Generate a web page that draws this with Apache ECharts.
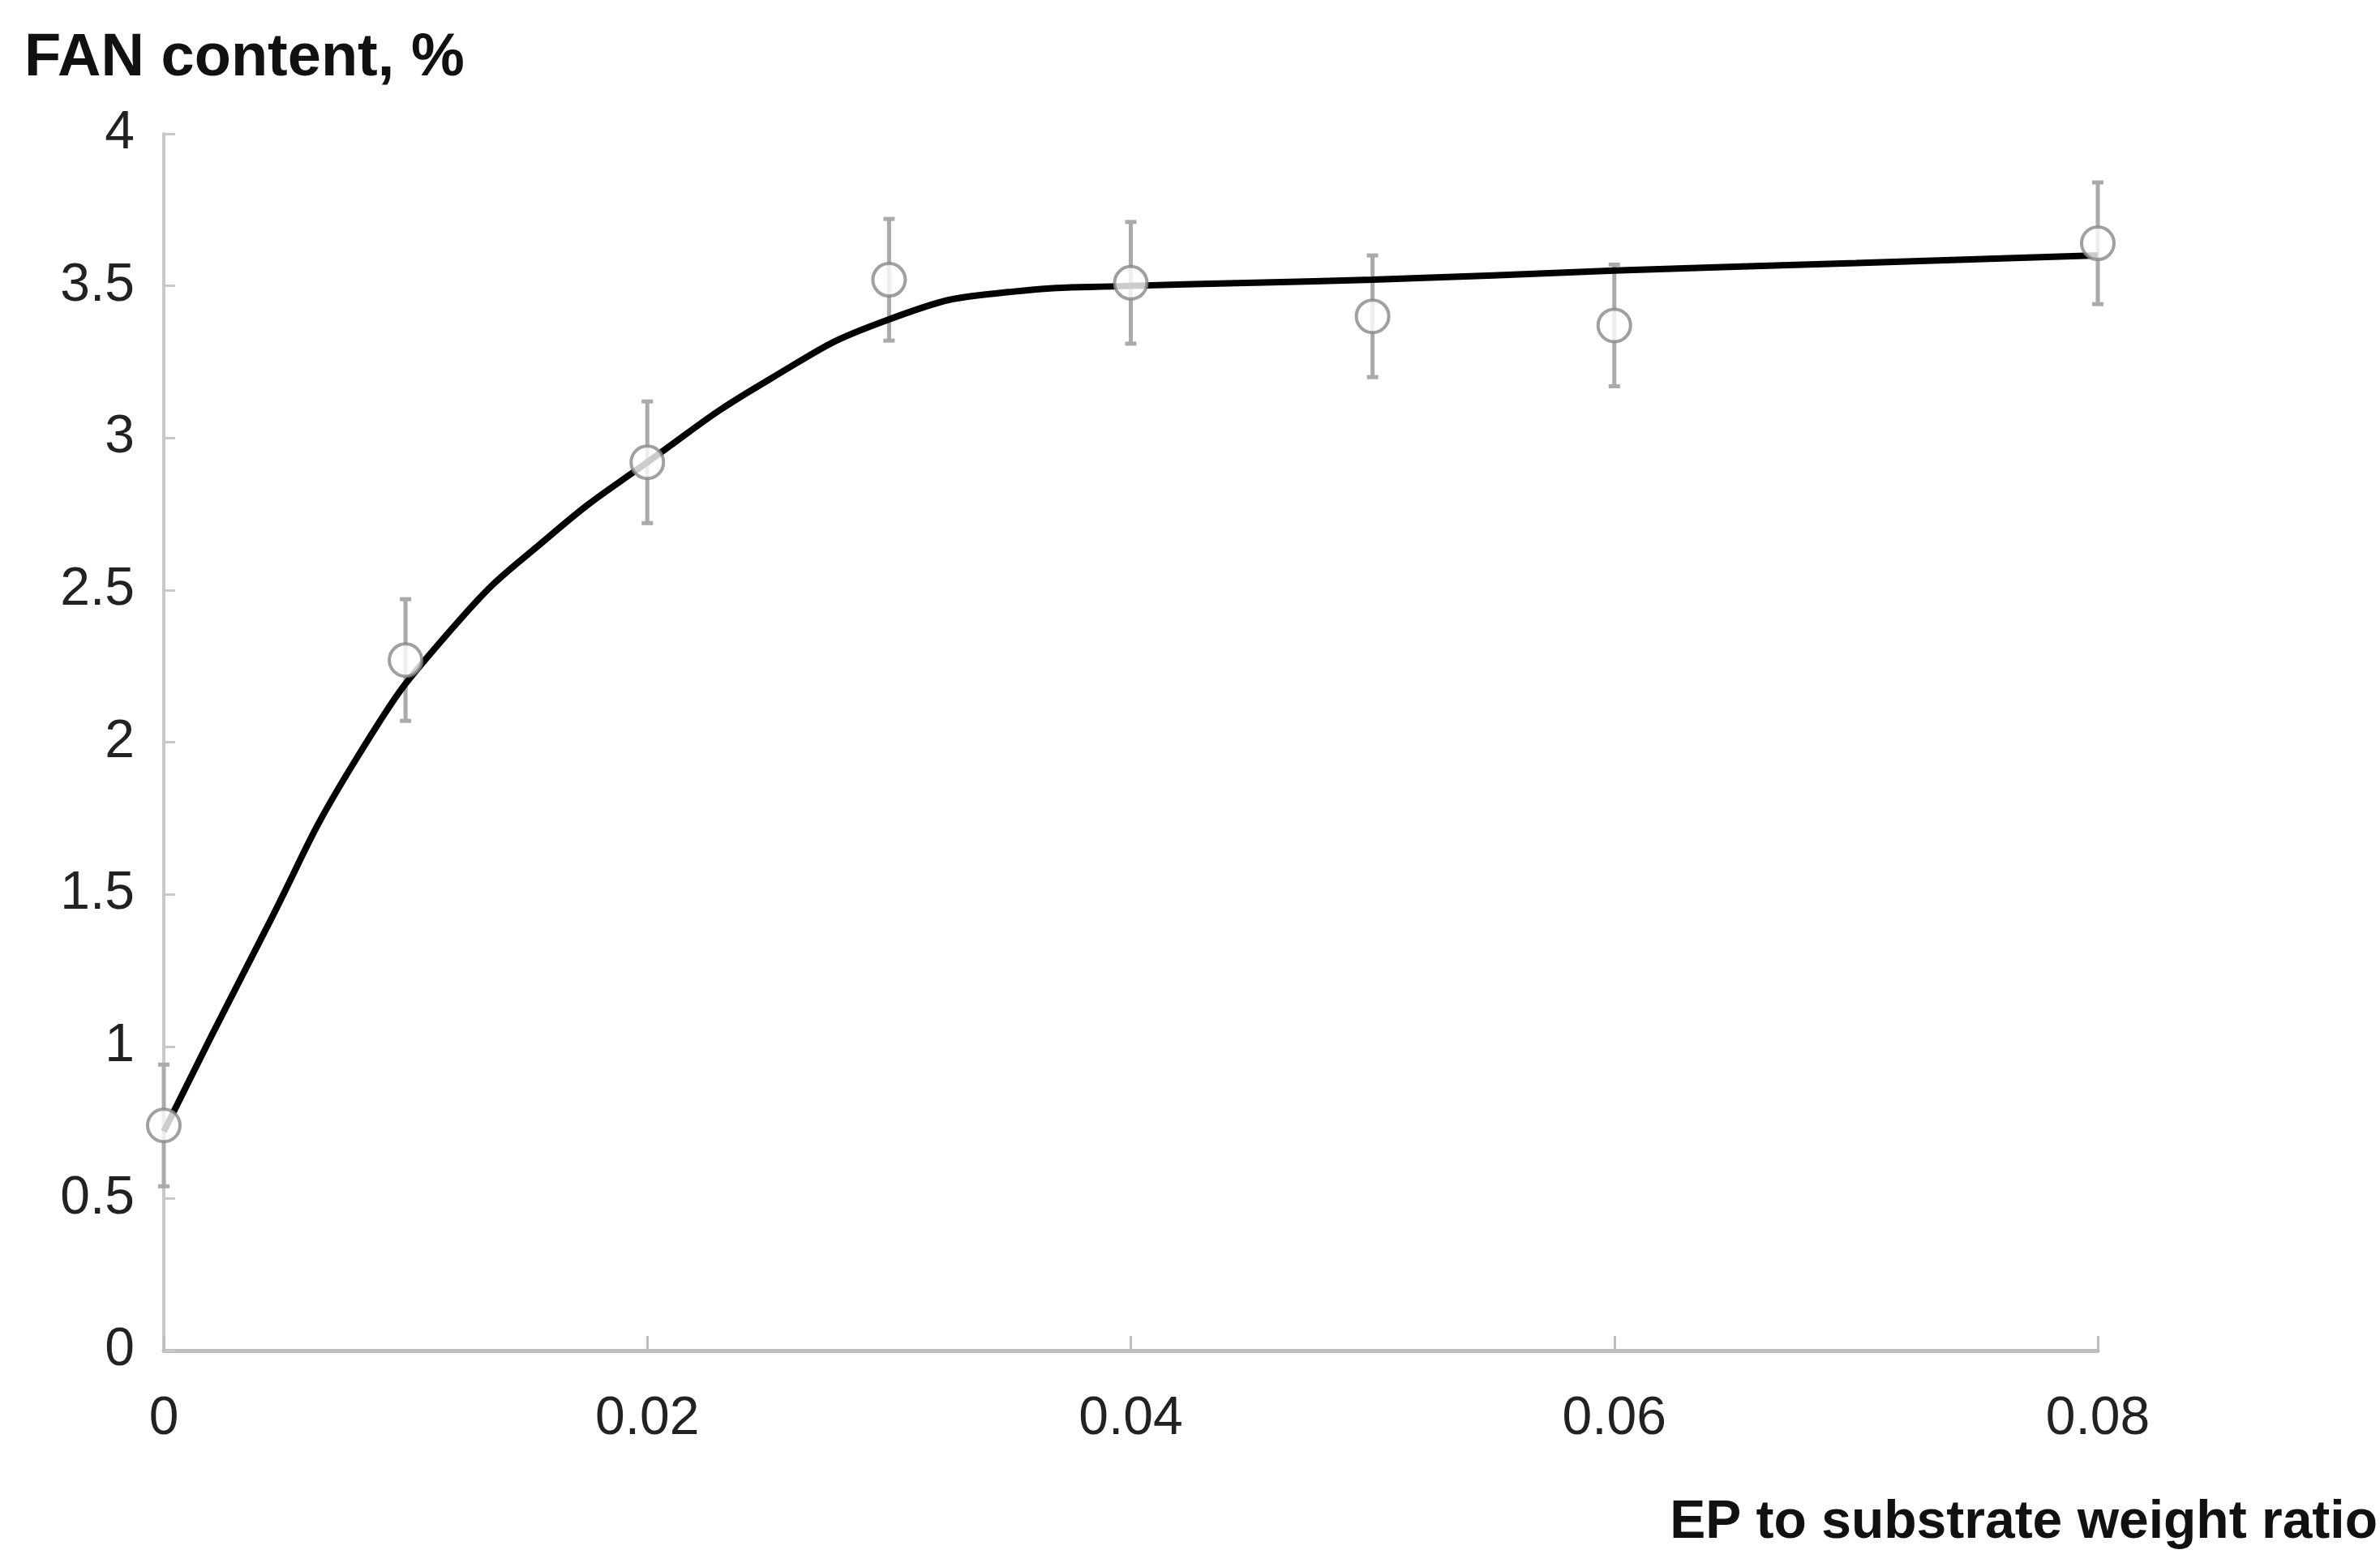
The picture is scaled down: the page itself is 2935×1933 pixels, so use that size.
<!DOCTYPE html>
<html><head><meta charset="utf-8">
<script src="https://cdn.jsdelivr.net/npm/echarts@6/dist/echarts.min.js"></script>
<style>html,body{margin:0;padding:0;background:#fff}#c{width:2935px;height:1933px}</style>
</head><body><div id="c"></div>
<script>
const xValues = [0, 0.01, 0.02, 0.03, 0.04, 0.05, 0.06, 0.08];
const yValues = [0.74, 2.27, 2.92, 3.52, 3.51, 3.40, 3.37, 3.64];
const yErrors = [0.2, 0.2, 0.2, 0.2, 0.2, 0.2, 0.2, 0.2];
const fitX = [0, 0.004, 0.008, 0.012, 0.016, 0.02, 0.025, 0.03, 0.035, 0.04, 0.05, 0.06, 0.07, 0.08];
const fitY = [0.72, 1.35, 1.95, 2.38, 2.68, 2.92, 3.19, 3.39, 3.48, 3.50, 3.52, 3.55, 3.575, 3.60];
const xTicks = [0, 0.02, 0.04, 0.06, 0.08];

const chart = echarts.init(document.getElementById('c'));
chart.setOption({
  animation:false,
  backgroundColor:'#fff',
  grid:{left:202,right:337,top:165,bottom:267},
  xAxis:{type:'value',min:0,max:0.08,interval:0.02,
    axisLine:{lineStyle:{color:'#bdbdbd',width:5}},
    axisTick:{inside:true,length:18,lineStyle:{color:'#bdbdbd',width:3}},
    splitLine:{show:false},
    axisLabel:{margin:52,fontFamily:'Liberation Sans, Arial',fontSize:66,color:'#222',
      formatter:v=>xTicks.includes(+v.toFixed(2))?String(+v.toFixed(2)):''},
    name:'EP to substrate weight ratio',nameLocation:'end',
    nameTextStyle:{fontFamily:'Liberation Sans Narrow, Liberation Sans',fontSize:66,fontWeight:'bold',color:'#111',
      align:'right',verticalAlign:'top',padding:[180,-330,0,0]}},
  yAxis:{type:'value',min:0,max:4,interval:0.5,
    axisLine:{show:true,lineStyle:{color:'#c8c8c8',width:4}},
    axisTick:{show:true,inside:true,length:14,lineStyle:{color:'#c8c8c8',width:3}},
    splitLine:{show:false},
    axisLabel:{margin:36,fontFamily:'Liberation Sans, Arial',fontSize:66,color:'#222'},
    name:'FAN content, %',nameLocation:'end',
    nameTextStyle:{fontFamily:'Liberation Sans Narrow, Liberation Sans',fontSize:74,fontWeight:'bold',color:'#111',
      align:'left',padding:[0,0,40,-172]}},
  series:[
    {type:'line',data:fitX.map((x,i)=>[x,fitY[i]]),smooth:0.5,showSymbol:false,
      lineStyle:{color:'#000',width:8},z:3},
    {type:'custom',z:2,data:xValues.map((x,i)=>[x,yValues[i]-yErrors[i],yValues[i]+yErrors[i]]),
      renderItem:(p,api)=>{
        const lo=api.coord([api.value(0),api.value(1)]);
        const hi=api.coord([api.value(0),api.value(2)]);
        const st={stroke:'#aaa',lineWidth:5};
        return {type:'group',children:[
          {type:'line',shape:{x1:lo[0],y1:lo[1],x2:hi[0],y2:hi[1]},style:st},
          {type:'line',shape:{x1:lo[0]-7,y1:lo[1],x2:lo[0]+7,y2:lo[1]},style:st},
          {type:'line',shape:{x1:hi[0]-7,y1:hi[1],x2:hi[0]+7,y2:hi[1]},style:st}]};
      }},
    {type:'scatter',data:xValues.map((x,i)=>[x,yValues[i]]),symbol:'circle',symbolSize:40,z:4,
      itemStyle:{color:'#fff',borderColor:'#888',borderWidth:4}}
  ]
});
</script></body></html>
